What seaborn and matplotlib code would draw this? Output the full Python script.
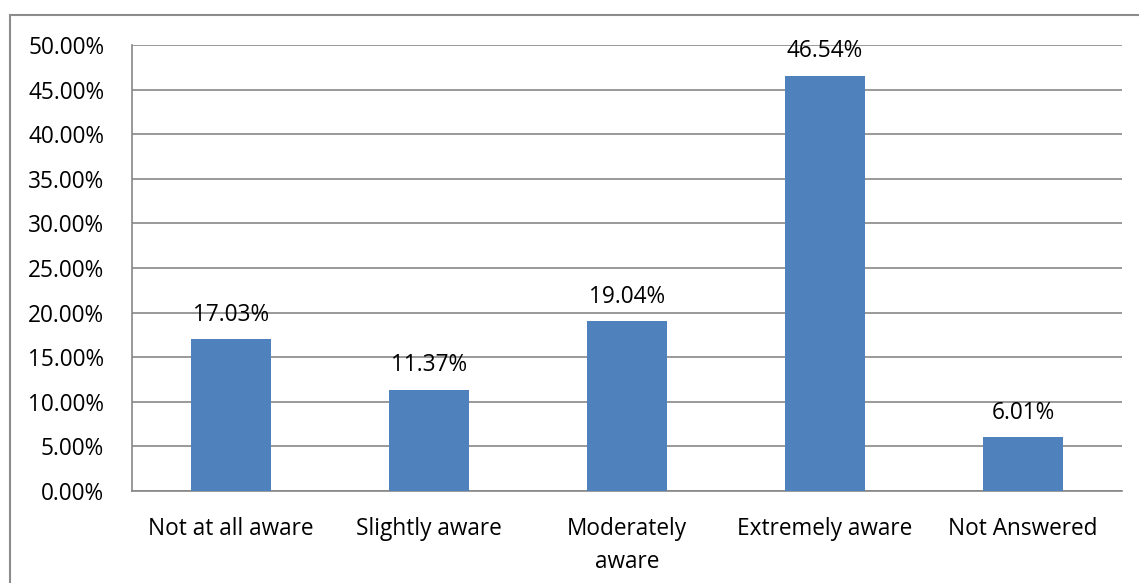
import matplotlib
matplotlib.use("Agg")
import matplotlib.pyplot as plt
from matplotlib.patches import Rectangle
from matplotlib.ticker import FixedLocator, PercentFormatter
import seaborn as sns
import pandas as pd

categories = ["Not at all aware", "Slightly aware", "Moderately\naware", "Extremely aware", "Not Answered"]
shares = [17.03, 11.37, 19.04, 46.54, 6.01]
y_ticks = [0, 5, 10, 15, 20, 25, 30, 35, 40, 45, 50]

sns.set_style("white")
plt.rcParams["font.family"] = ["Open Sans", "DejaVu Sans"]

df = pd.DataFrame({"category": categories, "share": shares})

fig = plt.figure(figsize=(11.39, 5.83), dpi=100)
ax = fig.add_axes([132 / 1139, 1 - 491 / 583, (1122 - 132) / 1139, (491 - 45) / 583])

grid_col = "#878787"
fs = 16.3
sns.barplot(data=df, x="category", y="share", color="#4F81BD", saturation=1,
            width=0.4, linewidth=0, ax=ax, zorder=3)

ax.set_xlim(-0.5, len(categories) - 0.5)
ax.set_ylim(0, 50)
ax.set_yticks(y_ticks)
ax.yaxis.set_major_formatter(PercentFormatter(decimals=2))
ax.grid(axis="y", color=grid_col, linewidth=1.2, zorder=0)
ax.set_axisbelow(True)

ax.xaxis.set_minor_locator(FixedLocator([i - 0.5 for i in range(len(categories) + 1)]))
ax.tick_params(axis="x", which="major", length=0, pad=19, labelsize=fs, labelcolor="#000000")
ax.tick_params(axis="x", which="minor", length=8, width=1.2, color=grid_col, direction="out")
ax.tick_params(axis="y", length=8, width=1.2, color=grid_col, direction="out", pad=12,
               labelsize=fs, labelcolor="#000000")
for lbl in ax.get_xticklabels():
    lbl.set_linespacing(1.5)
    lbl.set_verticalalignment("top")

for side in ["top", "right"]:
    ax.spines[side].set_visible(False)
for side in ["left", "bottom"]:
    ax.spines[side].set_color(grid_col)
    ax.spines[side].set_linewidth(1.2)

for i, v in enumerate(shares):
    ax.annotate(f"{v:.2f}%", (i, v), xytext=(0, 9), textcoords="offset points",
                ha="center", va="bottom", fontsize=fs, color="#000000")

ax.set_xlabel("")
ax.set_ylabel("")

# outer chart border (right and bottom edges run off the image)
fig.patches.append(Rectangle((10 / 1139, -0.05), 1.0, 1.05 - 15 / 583,
                             transform=fig.transFigure, fill=False,
                             edgecolor="#8c8c8c", linewidth=1.5))

fig.savefig("out.png", dpi=100)
